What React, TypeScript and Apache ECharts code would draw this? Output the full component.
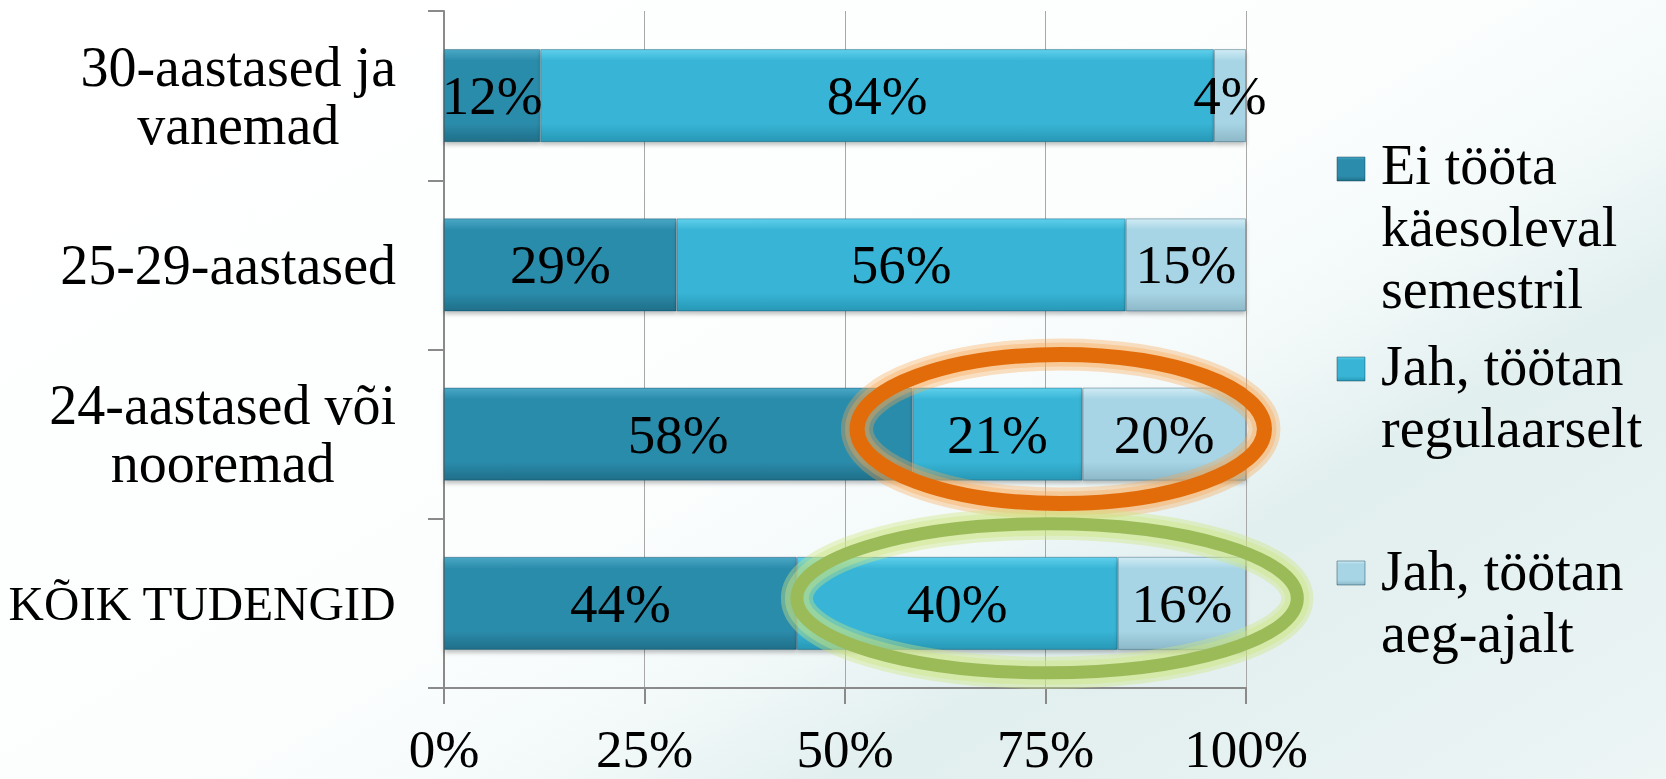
import React, { useEffect, useRef } from 'react';
import * as echarts from 'echarts';

// ---- data ----
const categories = [
  'KÕIK TUDENGID',
  '24-aastased või\nnooremad',
  '25-29-aastased',
  '30-aastased ja\nvanemad',
];
const seriesNames = [
  'Ei tööta käesoleval semestril',
  'Jah, töötan regulaarselt',
  'Jah, töötan aeg-ajalt',
];
const legendLabels = [
  'Ei tööta\nkäesoleval\nsemestril',
  'Jah, töötan\nregulaarselt',
  'Jah, töötan\naeg-ajalt',
];
const notWorking = [44, 58.4, 29, 12];
const regularly = [40, 21.2, 56, 84];
const occasionally = [16, 20.4, 15, 4];
const xTickValues = [0, 25, 50, 75, 100];

// highlight ellipses: category index, x range in % (stroke centre)
const highlightCats = [1, 0];
const highlightFrom = [51.5, 44.0];
const highlightTo = [102.3, 106.4];
const highlightColors = ['#E36C0A', '#9BBB59'];
const highlightGlows = ['rgba(248,165,80,0.35)', 'rgba(205,230,130,0.4)'];

const FONT = "'Liberation Serif', 'DejaVu Serif', serif";

const grad = (a: string, b: string, c: string) =>
  new echarts.graphic.LinearGradient(0, 0, 0, 1, [
    { offset: 0, color: a },
    { offset: 0.12, color: b },
    { offset: 0.8, color: b },
    { offset: 1, color: c },
  ]);

const barColors = [
  ['#4aa8c6', '#2b8cab', '#1f6f89'],
  ['#5fd0ec', '#38b5d6', '#2898b6'],
  ['#d0ecf5', '#a8d5e5', '#8cb8c8'],
];

export default function App() {
  const ref = useRef<HTMLDivElement>(null);
  useEffect(() => {
    if (!ref.current) return;
    const chart = echarts.init(ref.current, undefined, { renderer: 'svg' });
    const values = [notWorking, regularly, occasionally];
    const series = seriesNames.map((name, i) => ({
      name,
      type: 'bar',
      stack: 'total',
      barWidth: '55%',
      data: values[i],
      itemStyle: {
        color: grad(barColors[i][0], barColors[i][1], barColors[i][2]),
        borderColor: 'rgba(10,60,80,0.35)',
        borderWidth: 1,
        shadowColor: 'rgba(0,0,0,0.25)',
        shadowBlur: 4,
        shadowOffsetY: 3,
      },
      label: {
        show: true,
        position: 'inside',
        formatter: (p: any) => Math.round(p.value) + '%',
        color: '#000',
        fontFamily: FONT,
        fontSize: 55,
      },
    }));

    chart.setOption({
      animation: false,
      grid: {
        left: 444,
        right: 420,
        top: 11,
        bottom: 91,
        containLabel: false,
        outerBoundsMode: 'none',
      },
      xAxis: {
        type: 'value',
        min: xTickValues[0],
        max: xTickValues[xTickValues.length - 1],
        interval: xTickValues[1] - xTickValues[0],
        axisLine: { show: true, lineStyle: { color: '#8a8a8a', width: 2 } },
        axisTick: { show: true, length: 16, lineStyle: { color: '#8a8a8a', width: 2 } },
        splitLine: { show: true, lineStyle: { color: '#a8a8a8', width: 1 } },
        axisLabel: {
          formatter: '{value}%',
          margin: 34,
          color: '#000',
          fontFamily: FONT,
          fontSize: 53,
          lineHeight: 53,
        },
      },
      yAxis: {
        type: 'category',
        data: categories,
        axisLine: { show: true, lineStyle: { color: '#8a8a8a', width: 2 } },
        axisTick: { show: true, length: 16, lineStyle: { color: '#8a8a8a', width: 2 } },
        axisLabel: {
          margin: 48,
          color: '#000',
          fontFamily: FONT,
          fontSize: 56,
          lineHeight: 58,
          formatter: (v: string) =>
            v
              .split('\n')
              .map((l) => (l === l.toUpperCase() && /[A-ZÕ]/.test(l) ? `{u|${l}}` : `{c|${l}}`))
              .join('\n'),
          rich: {
            c: { align: 'center', color: '#000', fontFamily: FONT, fontSize: 56, lineHeight: 58 },
            u: { align: 'center', color: '#000', fontFamily: FONT, fontSize: 49, lineHeight: 58 },
          },
        },
      },
      series,
    });

    // annotations positioned through the axes
    const p0 = chart.convertToPixel({ gridIndex: 0 }, [0, 0]) as number[];
    const p1 = chart.convertToPixel({ gridIndex: 0 }, [0, 1]) as number[];
    const band = Math.abs(p0[1] - p1[1]);
    const ellipses: any[] = [];
    highlightCats.forEach((cat, i) => {
      const a = chart.convertToPixel({ gridIndex: 0 }, [highlightFrom[i], cat]) as number[];
      const b = chart.convertToPixel({ gridIndex: 0 }, [highlightTo[i], cat]) as number[];
      const shape = {
        cx: (a[0] + b[0]) / 2,
        cy: a[1] - band * 0.03,
        rx: (b[0] - a[0]) / 2,
        ry: band * 0.44,
      };
      ellipses.push({
        type: 'ellipse',
        silent: true,
        z: 99,
        shape,
        style: { fill: 'none', stroke: highlightGlows[i], lineWidth: 32 },
      });
      ellipses.push({
        type: 'ellipse',
        silent: true,
        z: 99,
        shape,
        style: { fill: 'none', stroke: highlightGlows[i], lineWidth: 24 },
      });
      ellipses.push({
        type: 'ellipse',
        silent: true,
        z: 100,
        shape,
        style: {
          fill: 'none',
          stroke: highlightColors[i],
          lineWidth: i === 0 ? 15 : 13,
        },
      });
    });

    // legend (first line aligned with the marker)
    const legendTops = [134, 335, 540];
    const markerCentres = [169, 369, 573];
    const legendItems: any[] = [];
    seriesNames.forEach((_, i) => {
      legendItems.push({
        type: 'rect',
        silent: true,
        shape: { x: 1337, y: markerCentres[i] - 12, width: 28, height: 24 },
        style: {
          fill: grad(barColors[i][0], barColors[i][1], barColors[i][2]),
          stroke: 'rgba(10,60,80,0.45)',
          lineWidth: 1,
        },
      });
      legendItems.push({
        type: 'text',
        silent: true,
        x: 1381,
        y: legendTops[i],
        style: {
          text: legendLabels[i],
          fill: '#000',
          font: `56px ${FONT}`,
          fontFamily: FONT,
          fontSize: 56,
          lineHeight: 62,
          align: 'left',
          verticalAlign: 'top',
        },
      });
    });

    chart.setOption({ graphic: [...ellipses, ...legendItems] });

    return () => chart.dispose();
  }, []);

  return (
    <div
      ref={ref}
      style={{
        position: 'fixed',
        left: 0,
        top: 0,
        width: 1666,
        height: 779,
        background:
          'linear-gradient(149deg, #ffffff 0%, #fcfefe 50%, #f3f9f9 62%, #e2efef 72%, #e6f1f1 85%, #edf5f5 100%)',
      }}
    />
  );
}
